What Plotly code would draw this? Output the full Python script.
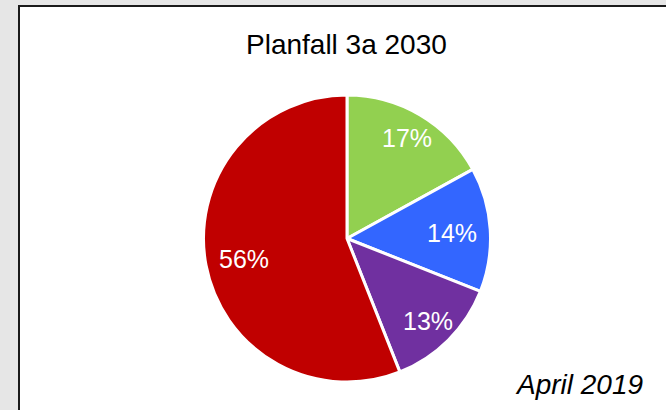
import math
import plotly.graph_objects as go

# Shares of the 2030 scenario, clockwise from 12 o'clock
labels = ["A", "B", "C", "D"]
shares = [17, 14, 13, 56]
colors = ["#92d050", "#3366ff", "#7030a0", "#c00000"]

# Distance of each percentage label from the centre, as a fraction of the radius
label_radius = [0.82, 0.73, 0.80, 0.73]

W, H = 666, 410
FONT = "Arial, Liberation Sans, Helvetica, sans-serif"

# Pie placement in pixels, converted to paper fractions
cx, cy, r = 347, 238.5, 143.5
dom_x = [(cx - r) / W, (cx + r) / W]
dom_y = [1 - (cy + r) / H, 1 - (cy - r) / H]

fig = go.Figure(
    go.Pie(
        labels=labels,
        values=shares,
        sort=False,
        direction="clockwise",
        rotation=0,
        marker=dict(colors=colors, line=dict(color="white", width=3)),
        textinfo="none",
        hoverinfo="label+percent",
        showlegend=False,
        domain=dict(x=dom_x, y=dom_y),
    )
)

# Percentage labels placed along each slice's mid-angle
annotations = []
total = sum(shares)
start = 0.0
for v, f in zip(shares, label_radius):
    mid = (start + v / 2) / total * 2 * math.pi
    start += v
    px = cx + f * r * math.sin(mid)
    py = cy - f * r * math.cos(mid)
    annotations.append(dict(
        text=f"{v}%", xref="paper", yref="paper",
        x=px / W, y=1 - (py + 1) / H, xanchor="center", yanchor="middle",
        showarrow=False,
        font=dict(family=FONT, size=25, color="white"),
    ))

annotations += [
    dict(
        text="Planfall 3a 2030", xref="paper", yref="paper",
        x=346.5 / W, y=1 - 45 / H, xanchor="center", yanchor="middle",
        showarrow=False,
        font=dict(family=FONT, size=28, color="black"),
    ),
    dict(
        text="<i>April 2019</i>", xref="paper", yref="paper",
        x=645 / W, y=1 - 384 / H, xanchor="right", yanchor="middle",
        showarrow=False,
        font=dict(family=FONT, size=28, color="black"),
    ),
]

fig.update_layout(
    width=W,
    height=H,
    margin=dict(l=0, r=0, t=0, b=0),
    paper_bgcolor="#e6e6e6",
    plot_bgcolor="#e6e6e6",
    shapes=[
        dict(
            type="rect", xref="paper", yref="paper",
            x0=19 / W, x1=1.05, y0=-0.05, y1=1 - 6 / H,
            line=dict(color="#1a1a1a", width=2),
            fillcolor="white", layer="below",
        )
    ],
    annotations=annotations,
)

fig.write_html("out.html")
